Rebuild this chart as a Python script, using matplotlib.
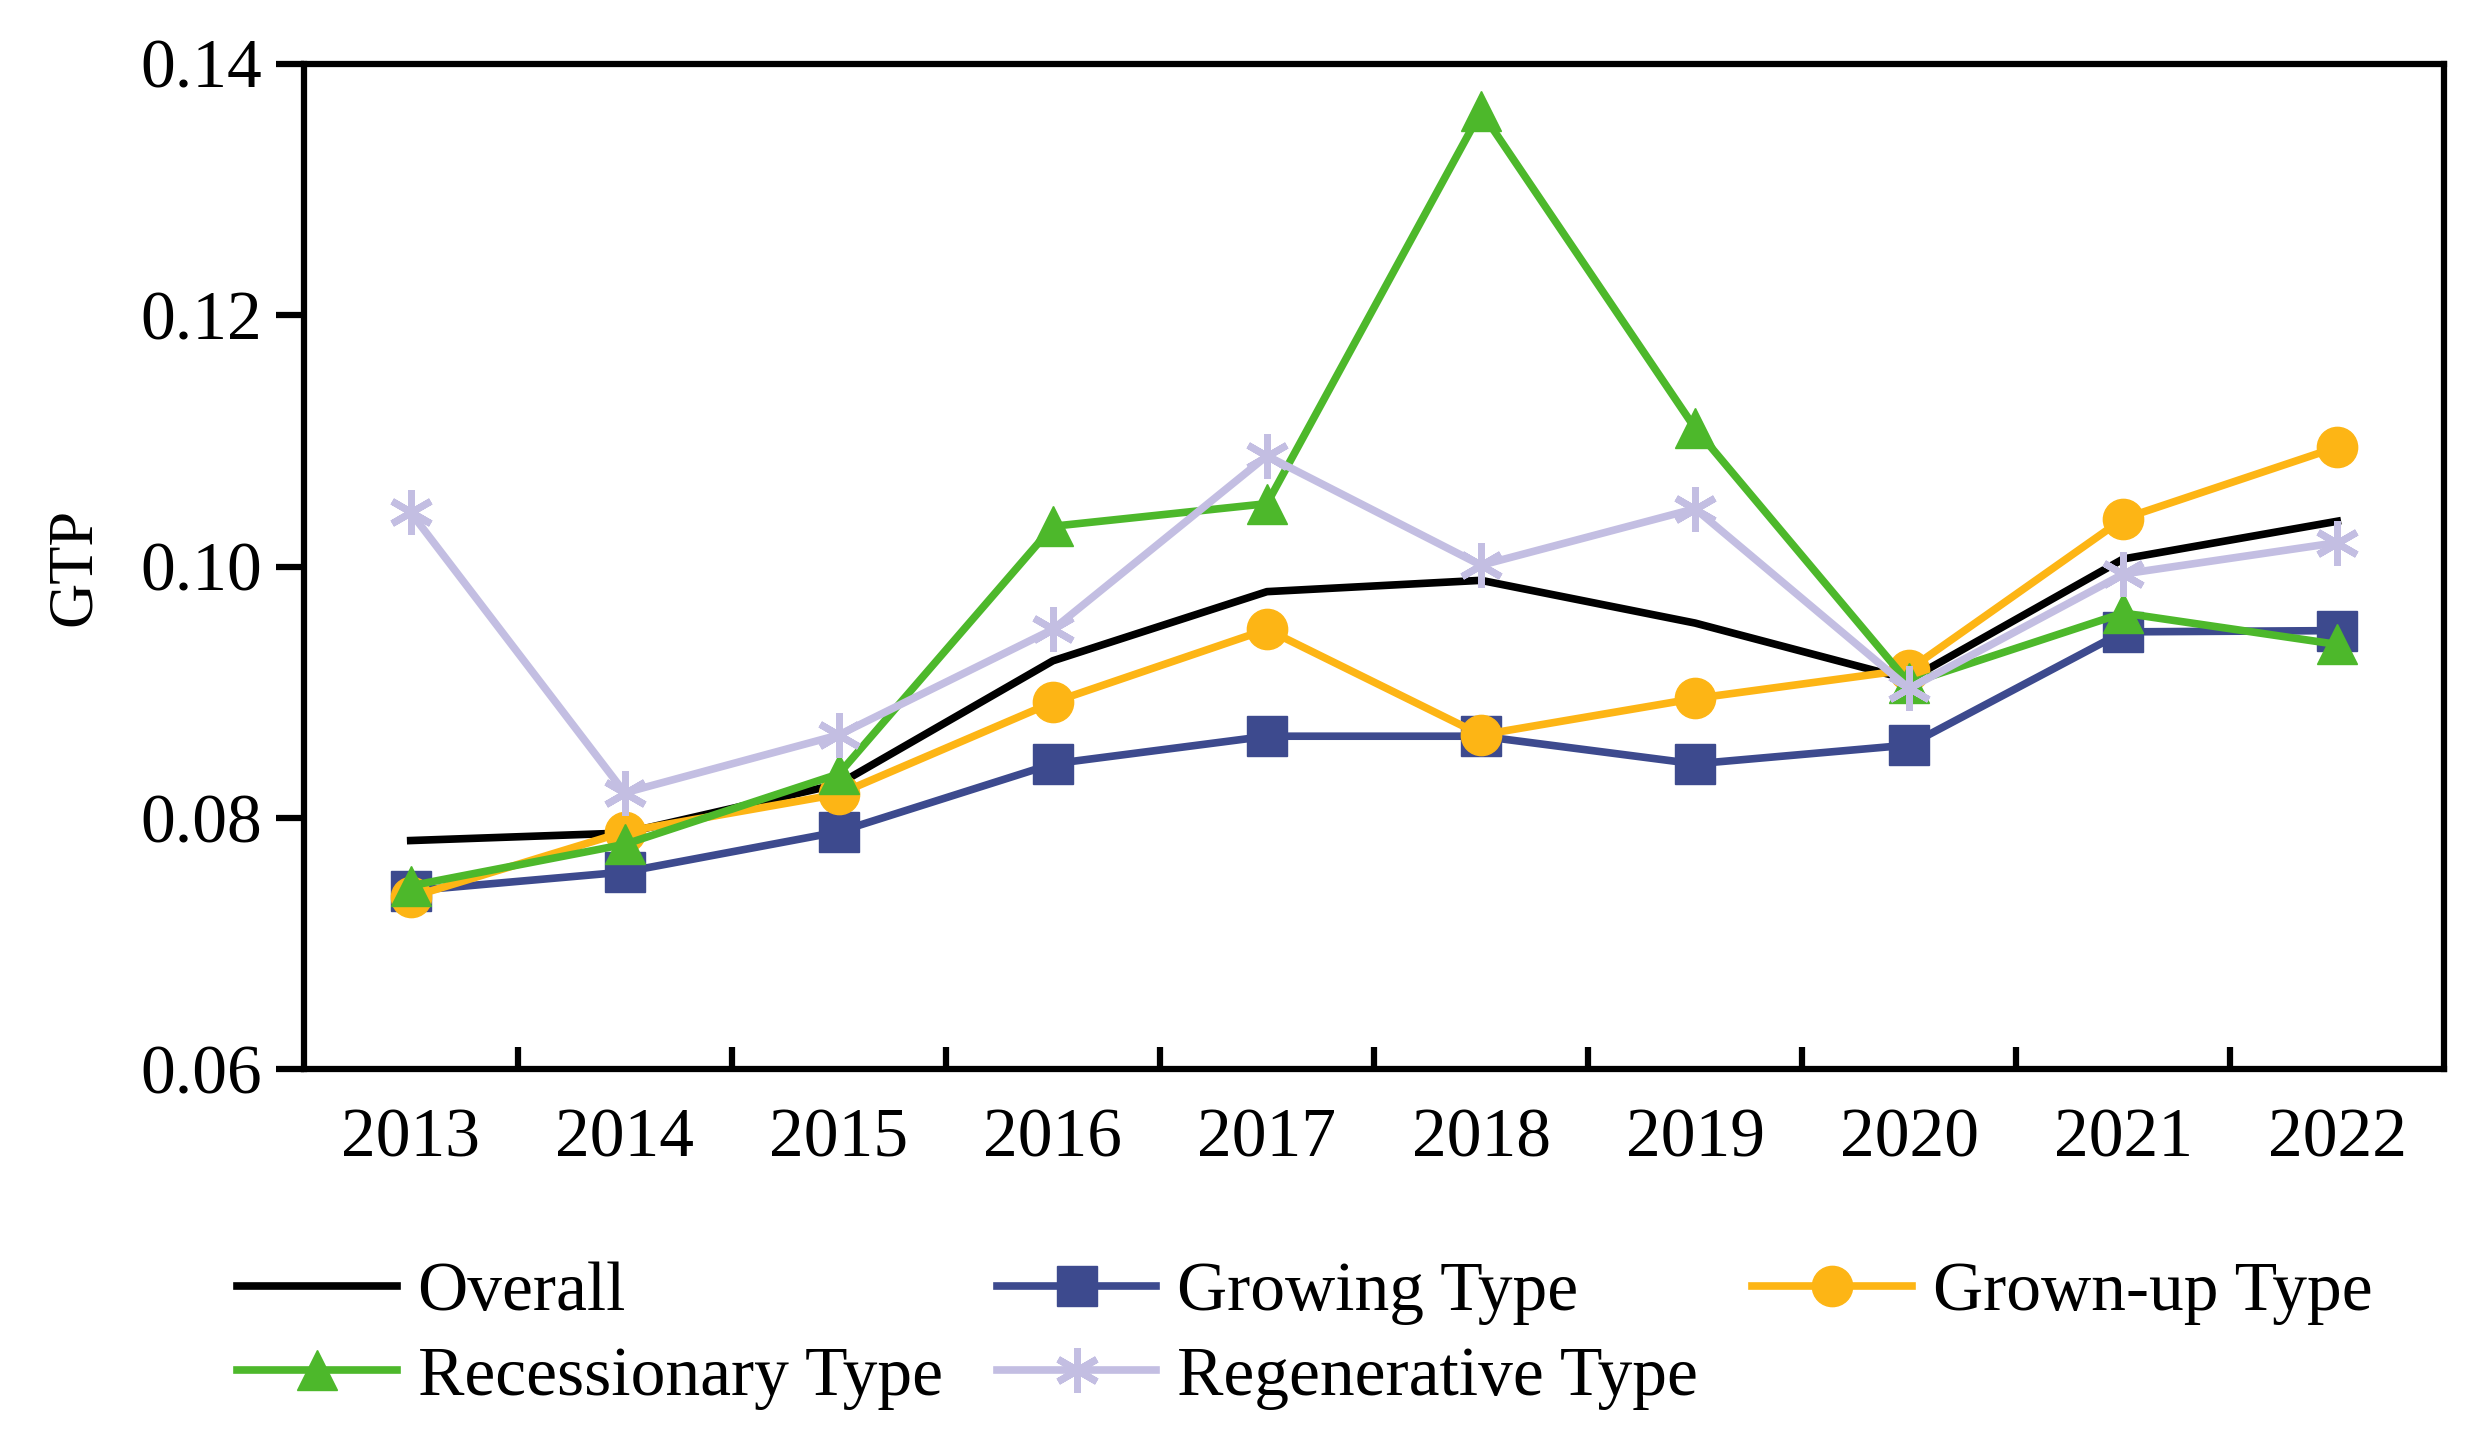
import matplotlib
matplotlib.use("Agg")
import matplotlib.pyplot as plt
import numpy as np

plt.rcParams['font.family'] = ['Liberation Serif', 'DejaVu Serif']

years = ['2013', '2014', '2015', '2016', '2017', '2018', '2019', '2020', '2021', '2022']
overall = [0.0782, 0.0788, 0.0827, 0.0925, 0.0980, 0.0989, 0.0955, 0.0910, 0.1006, 0.1036]
growing = [0.0742, 0.0757, 0.0789, 0.0843, 0.0865, 0.0865, 0.0843, 0.0858, 0.0948, 0.0949]
grown_up = [0.0737, 0.0789, 0.0819, 0.0892, 0.0950, 0.0866, 0.0895, 0.0918, 0.1038, 0.1095]
recessionary = [0.0746, 0.0779, 0.0835, 0.1032, 0.1050, 0.1362, 0.1110, 0.0907, 0.0963, 0.0938]
regenerative = [0.1043, 0.0820, 0.0866, 0.0950, 0.1088, 0.1001, 0.1046, 0.0903, 0.0994, 0.1019]
y_ticks = [0.06, 0.08, 0.10, 0.12, 0.14]
y_tick_labels = ['0.06', '0.08', '0.10', '0.12', '0.14']

fig = plt.figure(figsize=(24.69, 14.47), dpi=100)
ax = fig.add_axes([0.123, 0.261, 0.867, 0.695])

x = np.arange(len(years))
lw = 5.5
h_over, = ax.plot(x, overall, color='black', lw=lw, label='Overall', zorder=3)
h_grow, = ax.plot(x, growing, color='#3D4A8E', lw=lw, marker='s', ms=29, label='Growing Type', zorder=4)
h_gu, = ax.plot(x, grown_up, color='#FDB515', lw=lw, marker='o', ms=29, label='Grown-up Type', zorder=4)
h_rec, = ax.plot(x, recessionary, color='#4DB82B', lw=lw, marker='^', ms=29, label='Recessionary Type', zorder=5)
h_reg, = ax.plot(x, regenerative, color='#C3BEE2', lw=lw, marker=(6, 2, 0), ms=32, mew=5,
                 label='Regenerative Type', zorder=6)

ax.set_xlim(-0.5, len(years) - 0.5)
ax.set_ylim(0.06, 0.14)
ax.set_xticks(x)
ax.set_xticklabels(years, fontsize=50)
ax.set_xticks(np.arange(0.5, len(years) - 1, 1.0), minor=True)
ax.tick_params(axis='x', which='major', length=0, pad=28)
ax.tick_params(axis='x', which='minor', direction='in', length=16, width=4.5)
ax.set_yticks(y_ticks)
ax.set_yticklabels(y_tick_labels, fontsize=50)
ax.tick_params(axis='y', direction='out', length=20, width=4.5, pad=10)
ax.set_ylabel('GTP', fontsize=45, labelpad=26)

for s in ax.spines.values():
    s.set_linewidth(4.5)

handles = [h_over, h_rec, h_grow, h_reg, h_gu]
fig.legend(handles=handles, labels=[h.get_label() for h in handles],
           loc='center left', bbox_to_anchor=(0.096, 0.077), ncol=3, frameon=False,
           fontsize=50, handlelength=2.3, handletextpad=0.3, columnspacing=0.78,
           labelspacing=0.3, borderpad=0, borderaxespad=0)

fig.savefig('out.png', dpi=100)
